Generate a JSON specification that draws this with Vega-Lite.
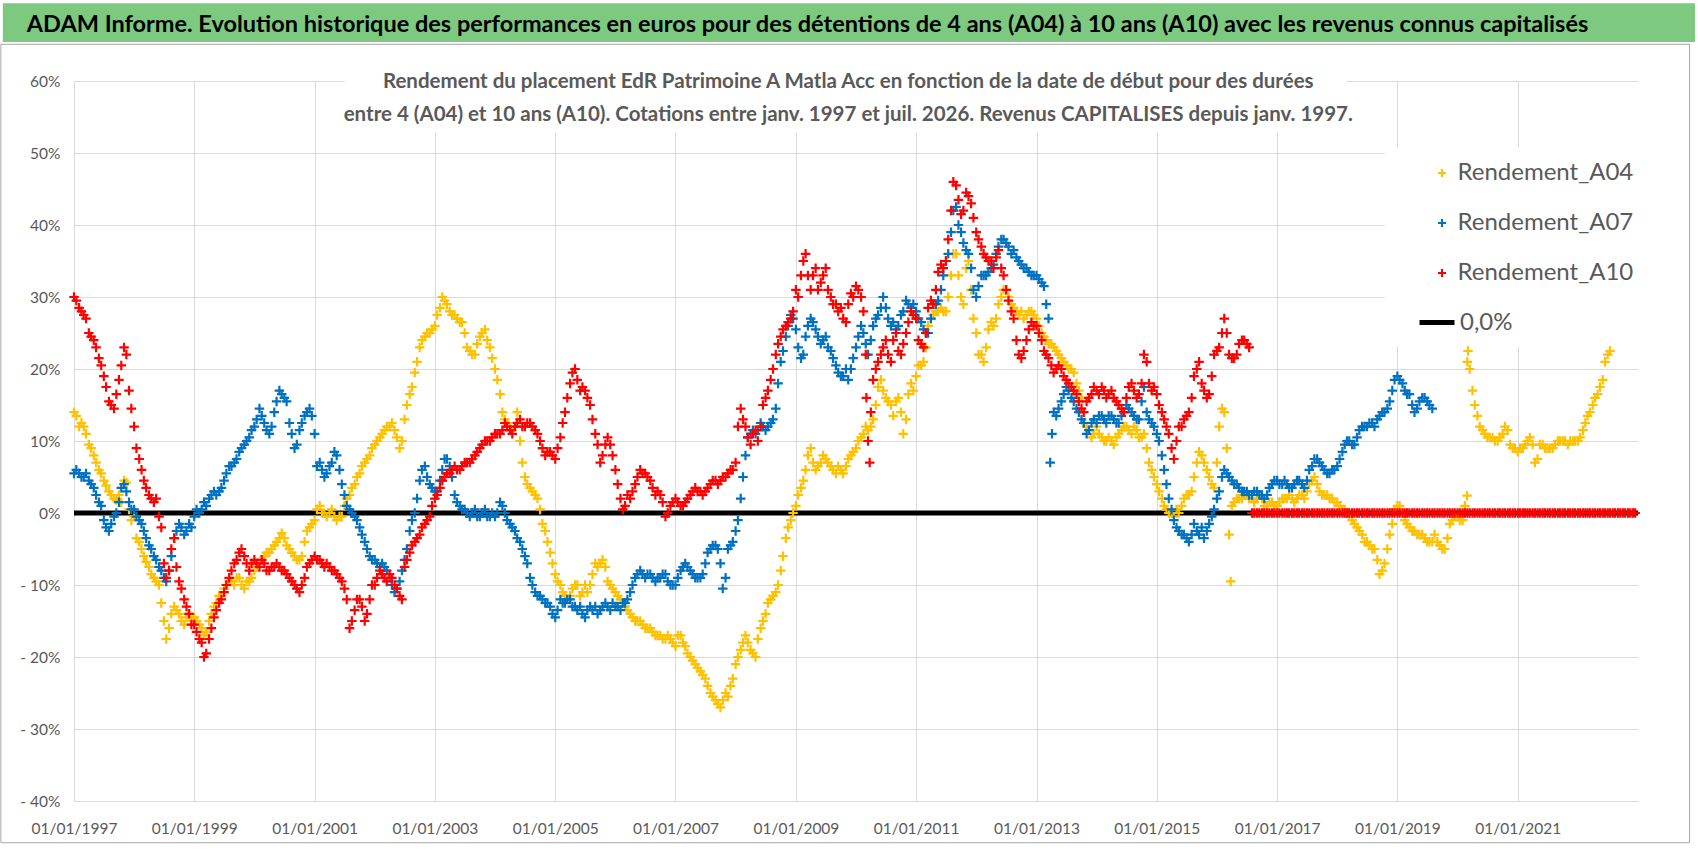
{
  "$schema": "https://vega.github.io/schema/vega-lite/v6.json",
  "width": 1564,
  "height": 720,
  "autosize": {"type": "none"},
  "padding": {"left": 74, "top": 81, "right": 60, "bottom": 55},
  "background": "white",
  "config": {
    "view": {"stroke": null},
    "font": "Lato"
  },
  "layer": [
    {
      "data": {"values": [{}]},
      "mark": {"type": "rect", "fill": "#7DC97F"},
      "encoding": {
        "x": {"datum": {"year": 1995, "month": 10, "date": 27, "utc": true}},
        "x2": {"datum": {"year": 2023, "month": 12, "date": 13, "utc": true}},
        "y": {"datum": 70.8},
        "y2": {"datum": 65.4}
      }
    },
    {
      "data": {"values": [{}]},
      "mark": {"type": "rect", "fill": null, "stroke": "#A6A6A6", "strokeWidth": 1},
      "encoding": {
        "x": {"datum": {"year": 1995, "month": 10, "date": 15, "utc": true}},
        "x2": {"datum": {"year": 2023, "month": 11, "date": 10, "utc": true}},
        "y": {"datum": 65.1},
        "y2": {"datum": -45.8}
      }
    },
    {
      "data": {"values": [{}]},
      "mark": {"type": "rect", "fill": "white"},
      "encoding": {
        "x": {"datum": {"year": 2001, "month": 7, "date": 3, "utc": true}},
        "x2": {"datum": {"year": 2018, "month": 3, "date": 1, "utc": true}},
        "y": {"datum": 62.5},
        "y2": {"datum": 52.8}
      }
    },
    {
      "data": {"values": [{}]},
      "mark": {"type": "rect", "fill": "white"},
      "encoding": {
        "x": {"datum": {"year": 2018, "month": 10, "date": 17, "utc": true}},
        "x2": {"datum": {"year": 2023, "month": 2, "date": 1, "utc": true}},
        "y": {"datum": 50.8},
        "y2": {"datum": 23.1}
      }
    },
    {
      "data": {"values": [{}]},
      "mark": {"type": "rule", "strokeWidth": 5},
      "encoding": {
        "y": {"datum": 0},
        "stroke": {
          "datum": "0,0%",
          "type": "nominal",
          "scale": {"domain": ["0,0%"], "range": ["#000000"]},
          "legend": {
            "title": null,
            "orient": "none",
            "legendX": 1343,
            "legendY": 221.5,
            "padding": 0,
            "symbolType": "stroke",
            "symbolSize": 1225,
            "symbolStrokeWidth": 5,
            "labelOffset": 3,
            "labelFont": "Lato",
            "labelFontSize": 24,
            "labelColor": "#595959"
          }
        }
      }
    },
    {
      "data": {
        "values": [
          {"d":"1997-01-01","A04":14,"A07":5.5,"A10":30},
          {"d":"1997-01-15","A04":13.5,"A07":6,"A10":29.5},
          {"d":"1997-02-01","A04":12,"A07":5.5,"A10":28.5},
          {"d":"1997-02-15","A04":12.5,"A07":5,"A10":28},
          {"d":"1997-03-01","A04":12,"A07":5,"A10":27.5},
          {"d":"1997-03-15","A04":11,"A07":5.5,"A10":27},
          {"d":"1997-04-01","A04":9.5,"A07":4.5,"A10":25},
          {"d":"1997-04-15","A04":9,"A07":4,"A10":24.5},
          {"d":"1997-05-01","A04":8,"A07":3.5,"A10":24},
          {"d":"1997-05-15","A04":7,"A07":2.5,"A10":23},
          {"d":"1997-06-01","A04":6,"A07":1.5,"A10":21.5},
          {"d":"1997-06-15","A04":5.5,"A07":1,"A10":20.5},
          {"d":"1997-07-01","A04":4.5,"A07":-1,"A10":19},
          {"d":"1997-07-15","A04":3.8,"A07":-2,"A10":17.5},
          {"d":"1997-08-01","A04":3,"A07":-2.5,"A10":15.5},
          {"d":"1997-08-15","A04":2.5,"A07":-1.5,"A10":15},
          {"d":"1997-09-01","A04":2,"A07":-0.5,"A10":14.5},
          {"d":"1997-09-15","A04":1.8,"A07":0,"A10":16.5},
          {"d":"1997-10-01","A04":2.5,"A07":1.5,"A10":18.5},
          {"d":"1997-10-15","A04":1.5,"A07":3.5,"A10":20.5},
          {"d":"1997-11-01","A04":4.5,"A07":4,"A10":23},
          {"d":"1997-11-15","A04":4.2,"A07":3,"A10":22},
          {"d":"1997-12-01","A04":0.5,"A07":1.5,"A10":17},
          {"d":"1997-12-15","A04":-1,"A07":0.5,"A10":14.5},
          {"d":"1998-01-01","A04":-0.5,"A07":0.5,"A10":12},
          {"d":"1998-01-15","A04":-3.5,"A07":-0.5,"A10":9},
          {"d":"1998-02-01","A04":-4,"A07":-1,"A10":7.5},
          {"d":"1998-02-15","A04":-5,"A07":-1.5,"A10":6},
          {"d":"1998-03-01","A04":-6,"A07":-2.5,"A10":4.5},
          {"d":"1998-03-15","A04":-6.8,"A07":-3.5,"A10":3.5},
          {"d":"1998-04-01","A04":-7.5,"A07":-4.5,"A10":2.5},
          {"d":"1998-04-15","A04":-8.5,"A07":-5,"A10":2},
          {"d":"1998-05-01","A04":-9,"A07":-6,"A10":1.5},
          {"d":"1998-05-15","A04":-9.5,"A07":-6.5,"A10":2},
          {"d":"1998-06-01","A04":-10,"A07":-7.5,"A10":-0.5},
          {"d":"1998-06-15","A04":-12.5,"A07":-8,"A10":-2},
          {"d":"1998-07-01","A04":-15,"A07":-9,"A10":-7},
          {"d":"1998-07-15","A04":-17.5,"A07":-9.5,"A10":-9},
          {"d":"1998-08-01","A04":-16,"A07":-8,"A10":-8},
          {"d":"1998-08-15","A04":-14,"A07":-6,"A10":-5},
          {"d":"1998-09-01","A04":-13,"A07":-3.5,"A10":-3.5},
          {"d":"1998-09-15","A04":-13.5,"A07":-2.5,"A10":-7.5},
          {"d":"1998-10-01","A04":-14,"A07":-1.5,"A10":-9.5},
          {"d":"1998-10-15","A04":-15,"A07":-2,"A10":-10.5},
          {"d":"1998-11-01","A04":-15.5,"A07":-3,"A10":-12},
          {"d":"1998-11-15","A04":-14.5,"A07":-2.5,"A10":-13},
          {"d":"1998-12-01","A04":-14,"A07":-1.5,"A10":-14},
          {"d":"1998-12-15","A04":-15,"A07":-2,"A10":-15.5},
          {"d":"1999-01-01","A04":-14.5,"A07":-0.5,"A10":-15.5},
          {"d":"1999-01-15","A04":-15,"A07":0.5,"A10":-16.5},
          {"d":"1999-02-01","A04":-15.5,"A07":0,"A10":-17.5},
          {"d":"1999-02-15","A04":-16,"A07":0.5,"A10":-18},
          {"d":"1999-03-01","A04":-17,"A07":1.5,"A10":-20},
          {"d":"1999-03-15","A04":-16.5,"A07":1,"A10":-19.5},
          {"d":"1999-04-01","A04":-15,"A07":2,"A10":-17.5},
          {"d":"1999-04-15","A04":-14,"A07":2.5,"A10":-16},
          {"d":"1999-05-01","A04":-13,"A07":3,"A10":-14.5},
          {"d":"1999-05-15","A04":-12.5,"A07":2.5,"A10":-13.5},
          {"d":"1999-06-01","A04":-11.5,"A07":3,"A10":-12.5},
          {"d":"1999-06-15","A04":-11.5,"A07":3.5,"A10":-12},
          {"d":"1999-07-01","A04":-10.5,"A07":4.5,"A10":-11},
          {"d":"1999-07-15","A04":-10,"A07":5.5,"A10":-10},
          {"d":"1999-08-01","A04":-9.5,"A07":6.5,"A10":-9},
          {"d":"1999-08-15","A04":-9.5,"A07":6.5,"A10":-8},
          {"d":"1999-09-01","A04":-10,"A07":7,"A10":-7},
          {"d":"1999-09-15","A04":-9,"A07":7.5,"A10":-6.5},
          {"d":"1999-10-01","A04":-9,"A07":8.5,"A10":-5.5},
          {"d":"1999-10-15","A04":-10,"A07":9,"A10":-5},
          {"d":"1999-11-01","A04":-10.5,"A07":9.5,"A10":-6},
          {"d":"1999-11-15","A04":-9.5,"A07":10,"A10":-7},
          {"d":"1999-12-01","A04":-9.5,"A07":10.5,"A10":-8},
          {"d":"1999-12-15","A04":-9,"A07":11.5,"A10":-7},
          {"d":"2000-01-01","A04":-8,"A07":12,"A10":-6.5},
          {"d":"2000-01-15","A04":-7.5,"A07":13,"A10":-7},
          {"d":"2000-02-01","A04":-7,"A07":14.5,"A10":-7.5},
          {"d":"2000-02-15","A04":-6.5,"A07":13.5,"A10":-6.5},
          {"d":"2000-03-01","A04":-6,"A07":12.5,"A10":-7},
          {"d":"2000-03-15","A04":-5.5,"A07":11.5,"A10":-8},
          {"d":"2000-04-01","A04":-5.5,"A07":11,"A10":-8},
          {"d":"2000-04-15","A04":-5,"A07":12,"A10":-7.5},
          {"d":"2000-05-01","A04":-4.5,"A07":14,"A10":-7.5},
          {"d":"2000-05-15","A04":-4,"A07":15.5,"A10":-7},
          {"d":"2000-06-01","A04":-3.5,"A07":17,"A10":-7.5},
          {"d":"2000-06-15","A04":-2.8,"A07":16.5,"A10":-8},
          {"d":"2000-07-01","A04":-3.5,"A07":16,"A10":-8},
          {"d":"2000-07-15","A04":-4.5,"A07":15.5,"A10":-8.5},
          {"d":"2000-08-01","A04":-5,"A07":12.5,"A10":-9},
          {"d":"2000-08-15","A04":-5.5,"A07":11,"A10":-9.5},
          {"d":"2000-09-01","A04":-6,"A07":9,"A10":-10},
          {"d":"2000-09-15","A04":-6.5,"A07":9.5,"A10":-10.5},
          {"d":"2000-10-01","A04":-6.5,"A07":11.5,"A10":-11},
          {"d":"2000-10-15","A04":-6,"A07":12.5,"A10":-10},
          {"d":"2000-11-01","A04":-4,"A07":13.5,"A10":-9},
          {"d":"2000-11-15","A04":-2.5,"A07":14,"A10":-7.5},
          {"d":"2000-12-01","A04":-2,"A07":14.5,"A10":-7},
          {"d":"2000-12-15","A04":-1.5,"A07":13.5,"A10":-6.5},
          {"d":"2001-01-01","A04":-1,"A07":11,"A10":-6},
          {"d":"2001-01-15","A04":0.5,"A07":6.5,"A10":-6.5},
          {"d":"2001-02-01","A04":1,"A07":7,"A10":-6.5},
          {"d":"2001-02-15","A04":0,"A07":6,"A10":-7},
          {"d":"2001-03-01","A04":0,"A07":5,"A10":-7.5},
          {"d":"2001-03-15","A04":-0.5,"A07":5.5,"A10":-7},
          {"d":"2001-04-01","A04":0,"A07":6.5,"A10":-7.5},
          {"d":"2001-04-15","A04":0.5,"A07":7,"A10":-8},
          {"d":"2001-05-01","A04":-0.5,"A07":8.5,"A10":-8},
          {"d":"2001-05-15","A04":-1,"A07":8,"A10":-8.5},
          {"d":"2001-06-01","A04":-0.5,"A07":6,"A10":-9},
          {"d":"2001-06-15","A04":-0.5,"A07":4,"A10":-9.5},
          {"d":"2001-07-01","A04":1,"A07":2.5,"A10":-10.5},
          {"d":"2001-07-15","A04":2,"A07":1,"A10":-12},
          {"d":"2001-08-01","A04":2.5,"A07":0.5,"A10":-16},
          {"d":"2001-08-15","A04":3.5,"A07":0,"A10":-15},
          {"d":"2001-09-01","A04":4,"A07":-0.5,"A10":-13.5},
          {"d":"2001-09-15","A04":5,"A07":-1,"A10":-12},
          {"d":"2001-10-01","A04":5.5,"A07":-2,"A10":-12},
          {"d":"2001-10-15","A04":6.5,"A07":-3,"A10":-13},
          {"d":"2001-11-01","A04":7,"A07":-4,"A10":-15},
          {"d":"2001-11-15","A04":7.5,"A07":-5,"A10":-14},
          {"d":"2001-12-01","A04":8,"A07":-6,"A10":-12},
          {"d":"2001-12-15","A04":9,"A07":-6.5,"A10":-10},
          {"d":"2002-01-01","A04":9.5,"A07":-6.5,"A10":-10},
          {"d":"2002-01-15","A04":10,"A07":-7,"A10":-9},
          {"d":"2002-02-01","A04":10.5,"A07":-7.5,"A10":-8},
          {"d":"2002-02-15","A04":11,"A07":-7,"A10":-8.5},
          {"d":"2002-03-01","A04":11.5,"A07":-7.5,"A10":-9},
          {"d":"2002-03-15","A04":12,"A07":-8,"A10":-9.5},
          {"d":"2002-04-01","A04":12,"A07":-9,"A10":-8.5},
          {"d":"2002-04-15","A04":12.5,"A07":-10,"A10":-9},
          {"d":"2002-05-01","A04":11.5,"A07":-11,"A10":-10},
          {"d":"2002-05-15","A04":10.5,"A07":-10.5,"A10":-10.5},
          {"d":"2002-06-01","A04":9,"A07":-9.5,"A10":-11.5},
          {"d":"2002-06-15","A04":10,"A07":-8,"A10":-12},
          {"d":"2002-07-01","A04":13,"A07":-6.5,"A10":-7.5},
          {"d":"2002-07-15","A04":15,"A07":-5,"A10":-6.5},
          {"d":"2002-08-01","A04":16.5,"A07":-2.5,"A10":-5.5},
          {"d":"2002-08-15","A04":17.5,"A07":-1,"A10":-4.5},
          {"d":"2002-09-01","A04":19.5,"A07":0,"A10":-4},
          {"d":"2002-09-15","A04":21,"A07":2,"A10":-3.5},
          {"d":"2002-10-01","A04":23,"A07":4.5,"A10":-3},
          {"d":"2002-10-15","A04":24,"A07":6,"A10":-2},
          {"d":"2002-11-01","A04":24.5,"A07":6.5,"A10":-1.5},
          {"d":"2002-11-15","A04":25,"A07":5,"A10":-1},
          {"d":"2002-12-01","A04":25,"A07":4,"A10":-0.5},
          {"d":"2002-12-15","A04":25.5,"A07":3.5,"A10":1},
          {"d":"2003-01-01","A04":26,"A07":3,"A10":2},
          {"d":"2003-01-15","A04":27.5,"A07":3,"A10":2.5},
          {"d":"2003-02-01","A04":28.5,"A07":4.5,"A10":3.5},
          {"d":"2003-02-15","A04":30,"A07":6,"A10":4.5},
          {"d":"2003-03-01","A04":29.5,"A07":7.5,"A10":5},
          {"d":"2003-03-15","A04":29,"A07":7.5,"A10":5.5},
          {"d":"2003-04-01","A04":28,"A07":6.5,"A10":5.5},
          {"d":"2003-04-15","A04":27.5,"A07":5,"A10":6},
          {"d":"2003-05-01","A04":27.5,"A07":2.5,"A10":6.5},
          {"d":"2003-05-15","A04":27,"A07":1.5,"A10":6},
          {"d":"2003-06-01","A04":26.5,"A07":1,"A10":6},
          {"d":"2003-06-15","A04":26.5,"A07":0.5,"A10":6.5},
          {"d":"2003-07-01","A04":25,"A07":0.5,"A10":7},
          {"d":"2003-07-15","A04":23,"A07":0,"A10":7},
          {"d":"2003-08-01","A04":22.5,"A07":-0.5,"A10":7},
          {"d":"2003-08-15","A04":22,"A07":0,"A10":7.5},
          {"d":"2003-09-01","A04":22,"A07":0.5,"A10":8},
          {"d":"2003-09-15","A04":23.5,"A07":-0.5,"A10":8.5},
          {"d":"2003-10-01","A04":24.5,"A07":-0.5,"A10":9},
          {"d":"2003-10-15","A04":25,"A07":0,"A10":9.5},
          {"d":"2003-11-01","A04":25.5,"A07":0.5,"A10":10},
          {"d":"2003-11-15","A04":24,"A07":-0.5,"A10":10},
          {"d":"2003-12-01","A04":23,"A07":-0.5,"A10":10},
          {"d":"2003-12-15","A04":21.5,"A07":0,"A10":10.5},
          {"d":"2004-01-01","A04":20,"A07":-0.5,"A10":11},
          {"d":"2004-01-15","A04":18.5,"A07":0,"A10":11},
          {"d":"2004-02-01","A04":16.5,"A07":1.5,"A10":11},
          {"d":"2004-02-15","A04":14,"A07":1,"A10":11.5},
          {"d":"2004-03-01","A04":13,"A07":0,"A10":12.5},
          {"d":"2004-03-15","A04":12.5,"A07":-1,"A10":12},
          {"d":"2004-04-01","A04":12,"A07":-1.5,"A10":11.5},
          {"d":"2004-04-15","A04":11.5,"A07":-2,"A10":11},
          {"d":"2004-05-01","A04":12,"A07":-2.5,"A10":12},
          {"d":"2004-05-15","A04":14,"A07":-3.5,"A10":12.5},
          {"d":"2004-06-01","A04":10,"A07":-4,"A10":13},
          {"d":"2004-06-15","A04":7,"A07":-5,"A10":12},
          {"d":"2004-07-01","A04":5,"A07":-6,"A10":12},
          {"d":"2004-07-15","A04":4,"A07":-7,"A10":12.5},
          {"d":"2004-08-01","A04":3.5,"A07":-9,"A10":12.5},
          {"d":"2004-08-15","A04":3,"A07":-10,"A10":12},
          {"d":"2004-09-01","A04":2.5,"A07":-11,"A10":11.5},
          {"d":"2004-09-15","A04":2,"A07":-11.5,"A10":11},
          {"d":"2004-10-01","A04":0.5,"A07":-11.5,"A10":10},
          {"d":"2004-10-15","A04":-1.5,"A07":-12,"A10":9},
          {"d":"2004-11-01","A04":-2.5,"A07":-12.5,"A10":8},
          {"d":"2004-11-15","A04":-4,"A07":-12.5,"A10":8.5},
          {"d":"2004-12-01","A04":-5.5,"A07":-13,"A10":8.5},
          {"d":"2004-12-15","A04":-7,"A07":-14,"A10":8},
          {"d":"2005-01-01","A04":-8.5,"A07":-14.5,"A10":7.5},
          {"d":"2005-01-15","A04":-9.5,"A07":-13.5,"A10":9},
          {"d":"2005-02-01","A04":-10,"A07":-12,"A10":10.5},
          {"d":"2005-02-15","A04":-11,"A07":-12.5,"A10":12.5},
          {"d":"2005-03-01","A04":-11.5,"A07":-12.5,"A10":14},
          {"d":"2005-03-15","A04":-12,"A07":-12,"A10":16},
          {"d":"2005-04-01","A04":-11.5,"A07":-12,"A10":18},
          {"d":"2005-04-15","A04":-10.5,"A07":-13,"A10":19.5},
          {"d":"2005-05-01","A04":-10,"A07":-13,"A10":20},
          {"d":"2005-05-15","A04":-10,"A07":-13.5,"A10":18.5},
          {"d":"2005-06-01","A04":-11.5,"A07":-13,"A10":17},
          {"d":"2005-06-15","A04":-11,"A07":-14,"A10":17.5},
          {"d":"2005-07-01","A04":-10,"A07":-14.5,"A10":17},
          {"d":"2005-07-15","A04":-11,"A07":-13.5,"A10":16},
          {"d":"2005-08-01","A04":-10,"A07":-13,"A10":15},
          {"d":"2005-08-15","A04":-8.5,"A07":-13.5,"A10":13},
          {"d":"2005-09-01","A04":-7,"A07":-13,"A10":11},
          {"d":"2005-09-15","A04":-7.5,"A07":-14,"A10":9.5},
          {"d":"2005-10-01","A04":-7,"A07":-13.5,"A10":7},
          {"d":"2005-10-15","A04":-6.5,"A07":-13,"A10":8},
          {"d":"2005-11-01","A04":-7.5,"A07":-12.5,"A10":9.5},
          {"d":"2005-11-15","A04":-9.5,"A07":-13,"A10":10.5},
          {"d":"2005-12-01","A04":-10,"A07":-13.5,"A10":9.5},
          {"d":"2005-12-15","A04":-10.5,"A07":-12.5,"A10":8},
          {"d":"2006-01-01","A04":-11,"A07":-13,"A10":6},
          {"d":"2006-01-15","A04":-11.5,"A07":-13,"A10":4},
          {"d":"2006-02-01","A04":-12,"A07":-13.5,"A10":2},
          {"d":"2006-02-15","A04":-12.5,"A07":-12.5,"A10":0.5},
          {"d":"2006-03-01","A04":-13,"A07":-12.5,"A10":1},
          {"d":"2006-03-15","A04":-13.5,"A07":-12,"A10":2.5},
          {"d":"2006-04-01","A04":-14,"A07":-11,"A10":2},
          {"d":"2006-04-15","A04":-14.5,"A07":-10,"A10":3},
          {"d":"2006-05-01","A04":-15,"A07":-9,"A10":4},
          {"d":"2006-05-15","A04":-15,"A07":-8.5,"A10":5},
          {"d":"2006-06-01","A04":-15,"A07":-8,"A10":6},
          {"d":"2006-06-15","A04":-15.5,"A07":-8.5,"A10":5.5},
          {"d":"2006-07-01","A04":-16,"A07":-9,"A10":5.5},
          {"d":"2006-07-15","A04":-16,"A07":-8.5,"A10":5},
          {"d":"2006-08-01","A04":-16,"A07":-8.5,"A10":4.5},
          {"d":"2006-08-15","A04":-16.5,"A07":-9,"A10":3.5},
          {"d":"2006-09-01","A04":-17,"A07":-9.5,"A10":2.5},
          {"d":"2006-09-15","A04":-17,"A07":-9,"A10":3},
          {"d":"2006-10-01","A04":-17,"A07":-9,"A10":2.5},
          {"d":"2006-10-15","A04":-17.5,"A07":-8.5,"A10":1.5},
          {"d":"2006-11-01","A04":-17.5,"A07":-8.5,"A10":-0.5},
          {"d":"2006-11-15","A04":-17,"A07":-9.5,"A10":0},
          {"d":"2006-12-01","A04":-17.5,"A07":-10,"A10":1},
          {"d":"2006-12-15","A04":-18,"A07":-10,"A10":1.5},
          {"d":"2007-01-01","A04":-18.5,"A07":-10,"A10":2},
          {"d":"2007-01-15","A04":-17,"A07":-9,"A10":1.5},
          {"d":"2007-02-01","A04":-17,"A07":-8,"A10":1},
          {"d":"2007-02-15","A04":-18,"A07":-7.5,"A10":1},
          {"d":"2007-03-01","A04":-18.5,"A07":-7,"A10":1.5},
          {"d":"2007-03-15","A04":-19.5,"A07":-7.5,"A10":2},
          {"d":"2007-04-01","A04":-20,"A07":-8,"A10":2.5},
          {"d":"2007-04-15","A04":-20.5,"A07":-8.5,"A10":3},
          {"d":"2007-05-01","A04":-21,"A07":-9,"A10":3.5},
          {"d":"2007-05-15","A04":-21.5,"A07":-9,"A10":3},
          {"d":"2007-06-01","A04":-22,"A07":-9,"A10":3},
          {"d":"2007-06-15","A04":-22.5,"A07":-8.5,"A10":2.5},
          {"d":"2007-07-01","A04":-23,"A07":-7,"A10":3},
          {"d":"2007-07-15","A04":-24,"A07":-5.5,"A10":3.5},
          {"d":"2007-08-01","A04":-25,"A07":-5,"A10":4},
          {"d":"2007-08-15","A04":-25.5,"A07":-4.5,"A10":4.5},
          {"d":"2007-09-01","A04":-26,"A07":-4.5,"A10":4.5},
          {"d":"2007-09-15","A04":-26.5,"A07":-5,"A10":4},
          {"d":"2007-10-01","A04":-27,"A07":-7,"A10":4.5},
          {"d":"2007-10-15","A04":-26,"A07":-10.5,"A10":5},
          {"d":"2007-11-01","A04":-25,"A07":-9,"A10":5},
          {"d":"2007-11-15","A04":-25.5,"A07":-5,"A10":5.5},
          {"d":"2007-12-01","A04":-24,"A07":-4.5,"A10":6},
          {"d":"2007-12-15","A04":-23,"A07":-4,"A10":6},
          {"d":"2008-01-01","A04":-21,"A07":-2.5,"A10":7},
          {"d":"2008-01-15","A04":-20,"A07":-1,"A10":12},
          {"d":"2008-02-01","A04":-19,"A07":2,"A10":14.5},
          {"d":"2008-02-15","A04":-18,"A07":5,"A10":13},
          {"d":"2008-03-01","A04":-17,"A07":8,"A10":12},
          {"d":"2008-03-15","A04":-18,"A07":10.5,"A10":10.5},
          {"d":"2008-04-01","A04":-19,"A07":11,"A10":9.5},
          {"d":"2008-04-15","A04":-19.5,"A07":11.5,"A10":11},
          {"d":"2008-05-01","A04":-20,"A07":11,"A10":11.5},
          {"d":"2008-05-15","A04":-17.5,"A07":11.5,"A10":10},
          {"d":"2008-06-01","A04":-16,"A07":12.5,"A10":12},
          {"d":"2008-06-15","A04":-15,"A07":12,"A10":15},
          {"d":"2008-07-01","A04":-14,"A07":11.5,"A10":16},
          {"d":"2008-07-15","A04":-12.5,"A07":12,"A10":17},
          {"d":"2008-08-01","A04":-12,"A07":12.5,"A10":18.5},
          {"d":"2008-08-15","A04":-11.5,"A07":13,"A10":20},
          {"d":"2008-09-01","A04":-11,"A07":14.5,"A10":22},
          {"d":"2008-09-15","A04":-10,"A07":18,"A10":23.5},
          {"d":"2008-10-01","A04":-8,"A07":21,"A10":24.5},
          {"d":"2008-10-15","A04":-6,"A07":22.5,"A10":25.5},
          {"d":"2008-11-01","A04":-3.5,"A07":24.5,"A10":26},
          {"d":"2008-11-15","A04":-2,"A07":26,"A10":26.5},
          {"d":"2008-12-01","A04":-1,"A07":27.5,"A10":27},
          {"d":"2008-12-15","A04":0,"A07":27,"A10":28},
          {"d":"2009-01-01","A04":1,"A07":25.5,"A10":31},
          {"d":"2009-01-15","A04":2.5,"A07":23,"A10":30},
          {"d":"2009-02-01","A04":3.5,"A07":21.5,"A10":33},
          {"d":"2009-02-15","A04":4.5,"A07":22,"A10":35},
          {"d":"2009-03-01","A04":6,"A07":24.5,"A10":36},
          {"d":"2009-03-15","A04":8,"A07":26,"A10":33},
          {"d":"2009-04-01","A04":9,"A07":27,"A10":31},
          {"d":"2009-04-15","A04":7,"A07":26.5,"A10":33},
          {"d":"2009-05-01","A04":6,"A07":25.5,"A10":34},
          {"d":"2009-05-15","A04":6.5,"A07":24.5,"A10":31},
          {"d":"2009-06-01","A04":7,"A07":23.5,"A10":32},
          {"d":"2009-06-15","A04":8,"A07":24,"A10":33},
          {"d":"2009-07-01","A04":7.5,"A07":24.5,"A10":34},
          {"d":"2009-07-15","A04":7,"A07":23,"A10":31},
          {"d":"2009-08-01","A04":6.5,"A07":22.5,"A10":30},
          {"d":"2009-08-15","A04":6,"A07":21.5,"A10":29},
          {"d":"2009-09-01","A04":5.5,"A07":20.5,"A10":29},
          {"d":"2009-09-15","A04":6.5,"A07":19.5,"A10":28},
          {"d":"2009-10-01","A04":6,"A07":19,"A10":28.5},
          {"d":"2009-10-15","A04":5.5,"A07":19,"A10":27},
          {"d":"2009-11-01","A04":6.5,"A07":20,"A10":26.5},
          {"d":"2009-11-15","A04":7.5,"A07":18.5,"A10":29},
          {"d":"2009-12-01","A04":8,"A07":20,"A10":30.5},
          {"d":"2009-12-15","A04":8.5,"A07":21.5,"A10":30},
          {"d":"2010-01-01","A04":9,"A07":23,"A10":31.5},
          {"d":"2010-01-15","A04":10,"A07":24.5,"A10":31},
          {"d":"2010-02-01","A04":10.5,"A07":26,"A10":30},
          {"d":"2010-02-15","A04":11,"A07":25,"A10":28},
          {"d":"2010-03-01","A04":12,"A07":23.5,"A10":22},
          {"d":"2010-03-05","A10":16},
          {"d":"2010-03-15","A04":11.5,"A07":22,"A10":10},
          {"d":"2010-03-25","A10":7},
          {"d":"2010-04-01","A04":12,"A07":24,"A10":14},
          {"d":"2010-04-15","A04":13,"A07":26,"A10":18.5},
          {"d":"2010-05-01","A04":15,"A07":27,"A10":20},
          {"d":"2010-05-15","A04":17.5,"A07":27.5,"A10":21},
          {"d":"2010-06-01","A04":18.5,"A07":28.5,"A10":22},
          {"d":"2010-06-15","A04":17,"A07":30,"A10":23},
          {"d":"2010-07-01","A04":16,"A07":28.5,"A10":24},
          {"d":"2010-07-15","A04":15.5,"A07":27,"A10":22},
          {"d":"2010-08-01","A04":15,"A07":26,"A10":21},
          {"d":"2010-08-15","A04":13.5,"A07":26.5,"A10":24},
          {"d":"2010-09-01","A04":15.5,"A07":25.5,"A10":25},
          {"d":"2010-09-15","A04":16,"A07":26,"A10":22.5},
          {"d":"2010-10-01","A04":14,"A07":27.5,"A10":22},
          {"d":"2010-10-15","A04":11,"A07":28,"A10":23.5},
          {"d":"2010-11-01","A04":13,"A07":29.5,"A10":25},
          {"d":"2010-11-15","A04":16.5,"A07":29,"A10":26.5},
          {"d":"2010-12-01","A04":18,"A07":28.5,"A10":28},
          {"d":"2010-12-15","A04":17,"A07":29,"A10":27.5},
          {"d":"2011-01-01","A04":19,"A07":28,"A10":27},
          {"d":"2011-01-15","A04":20.5,"A07":27,"A10":24},
          {"d":"2011-02-01","A04":20.5,"A07":26.5,"A10":23.5},
          {"d":"2011-02-15","A04":21,"A07":25.5,"A10":23},
          {"d":"2011-03-01","A04":23,"A07":25,"A10":25},
          {"d":"2011-03-15","A04":26,"A07":25,"A10":28.5},
          {"d":"2011-04-01","A04":27,"A07":27,"A10":29.5},
          {"d":"2011-04-15","A04":27.5,"A07":29,"A10":29},
          {"d":"2011-05-01","A04":28,"A07":29,"A10":31},
          {"d":"2011-05-15","A04":28,"A07":29.5,"A10":33.5},
          {"d":"2011-06-01","A04":28.5,"A07":31,"A10":34.5},
          {"d":"2011-06-15","A04":28,"A07":33,"A10":34},
          {"d":"2011-07-01","A04":28,"A07":35,"A10":35},
          {"d":"2011-07-15","A04":30,"A07":36,"A10":38},
          {"d":"2011-08-01","A04":33,"A07":39,"A10":42},
          {"d":"2011-08-15","A04":36,"A07":42,"A10":46},
          {"d":"2011-09-01","A04":36,"A07":42.5,"A10":45.5},
          {"d":"2011-09-15","A04":33,"A07":40,"A10":43.5},
          {"d":"2011-10-01","A04":30,"A07":39,"A10":41.5},
          {"d":"2011-10-15","A04":29,"A07":37.5,"A10":42},
          {"d":"2011-11-01","A04":34,"A07":36.5,"A10":44.5},
          {"d":"2011-11-15","A04":35,"A07":36,"A10":44},
          {"d":"2011-12-01","A04":31,"A07":34,"A10":43},
          {"d":"2011-12-15","A04":27,"A07":31,"A10":41},
          {"d":"2012-01-01","A04":25,"A07":30,"A10":39},
          {"d":"2012-01-15","A04":22,"A07":31.5,"A10":38},
          {"d":"2012-02-01","A04":22,"A07":33,"A10":37},
          {"d":"2012-02-15","A04":21,"A07":33,"A10":36},
          {"d":"2012-03-01","A04":23,"A07":33,"A10":35.5},
          {"d":"2012-03-15","A04":25.5,"A07":33.5,"A10":35},
          {"d":"2012-04-01","A04":26.5,"A07":34,"A10":35},
          {"d":"2012-04-15","A04":26,"A07":34.5,"A10":34},
          {"d":"2012-05-01","A04":27,"A07":36,"A10":35.5},
          {"d":"2012-05-15","A04":29,"A07":37,"A10":36.5},
          {"d":"2012-06-01","A04":30,"A07":38,"A10":34},
          {"d":"2012-06-15","A04":31,"A07":38,"A10":33},
          {"d":"2012-07-01","A04":31,"A07":37.5,"A10":31},
          {"d":"2012-07-15","A04":30,"A07":37,"A10":29.5},
          {"d":"2012-08-01","A04":29,"A07":36,"A10":28},
          {"d":"2012-08-15","A04":28.5,"A07":36.5,"A10":27},
          {"d":"2012-09-01","A04":28,"A07":35.5,"A10":24},
          {"d":"2012-09-15","A04":27.5,"A07":35,"A10":22},
          {"d":"2012-10-01","A04":28,"A07":34.5,"A10":21.5},
          {"d":"2012-10-15","A04":27,"A07":34,"A10":22.5},
          {"d":"2012-11-01","A04":27.5,"A07":34,"A10":24},
          {"d":"2012-11-15","A04":28,"A07":33.5,"A10":25.5},
          {"d":"2012-12-01","A04":28,"A07":33,"A10":26.5},
          {"d":"2012-12-15","A04":27.5,"A07":33,"A10":26},
          {"d":"2013-01-01","A04":27,"A07":33,"A10":26},
          {"d":"2013-01-15","A04":26,"A07":32.5,"A10":25},
          {"d":"2013-02-01","A04":25,"A07":32,"A10":24},
          {"d":"2013-02-15","A04":24.5,"A07":31.5,"A10":22.5},
          {"d":"2013-03-01","A04":24,"A07":29,"A10":22},
          {"d":"2013-03-15","A04":23.5,"A07":27,"A10":21.5},
          {"d":"2013-03-25","A07":7},
          {"d":"2013-04-01","A04":23.5,"A10":20.5},
          {"d":"2013-04-05","A07":11},
          {"d":"2013-04-15","A04":23,"A07":14,"A10":19.5},
          {"d":"2013-05-01","A04":22.5,"A07":13.5,"A10":20},
          {"d":"2013-05-15","A04":22,"A07":14.5,"A10":20.5},
          {"d":"2013-06-01","A04":21.5,"A07":15.5,"A10":20},
          {"d":"2013-06-15","A04":21,"A07":16.5,"A10":19},
          {"d":"2013-07-01","A04":20.5,"A07":17.5,"A10":18.5},
          {"d":"2013-07-15","A04":20,"A07":17,"A10":18},
          {"d":"2013-08-01","A04":20,"A07":16,"A10":17.5},
          {"d":"2013-08-15","A04":19.5,"A07":15.5,"A10":17},
          {"d":"2013-09-01","A04":18,"A07":14.5,"A10":16.5},
          {"d":"2013-09-15","A04":17,"A07":14,"A10":15.5},
          {"d":"2013-10-01","A04":16,"A07":13,"A10":14.5},
          {"d":"2013-10-15","A04":12.5,"A07":12.5,"A10":14},
          {"d":"2013-11-01","A04":12,"A07":11,"A10":15.5},
          {"d":"2013-11-15","A04":11.5,"A07":11.5,"A10":16},
          {"d":"2013-12-01","A04":10.5,"A07":12.5,"A10":16.5},
          {"d":"2013-12-15","A04":11,"A07":13,"A10":17.5},
          {"d":"2014-01-01","A04":12,"A07":12.5,"A10":17},
          {"d":"2014-01-15","A04":11,"A07":13.5,"A10":16.5},
          {"d":"2014-02-01","A04":10.5,"A07":13.5,"A10":17.5},
          {"d":"2014-02-15","A04":10,"A07":13,"A10":17},
          {"d":"2014-03-01","A04":10,"A07":12.5,"A10":16},
          {"d":"2014-03-15","A04":10.5,"A07":13.5,"A10":16.5},
          {"d":"2014-04-01","A04":10,"A07":13.5,"A10":17},
          {"d":"2014-04-15","A04":9.5,"A07":13,"A10":16},
          {"d":"2014-05-01","A04":10.5,"A07":12.5,"A10":15.5},
          {"d":"2014-05-15","A04":11,"A07":12.5,"A10":15},
          {"d":"2014-06-01","A04":11.5,"A07":13.5,"A10":14.5},
          {"d":"2014-06-15","A04":12,"A07":14,"A10":14},
          {"d":"2014-07-01","A04":12,"A07":15,"A10":16},
          {"d":"2014-07-15","A04":11.5,"A07":14.5,"A10":17.5},
          {"d":"2014-08-01","A04":11,"A07":14,"A10":18},
          {"d":"2014-08-15","A04":12,"A07":13.5,"A10":17},
          {"d":"2014-09-01","A04":11.5,"A07":13,"A10":16},
          {"d":"2014-09-15","A04":10.5,"A07":13,"A10":16.5},
          {"d":"2014-10-01","A04":10.5,"A07":15.5,"A10":18},
          {"d":"2014-10-15","A04":11,"A07":17.5,"A10":22},
          {"d":"2014-11-01","A04":9,"A07":14,"A10":21},
          {"d":"2014-11-15","A04":7,"A07":13,"A10":18},
          {"d":"2014-12-01","A04":6,"A07":12.5,"A10":17},
          {"d":"2014-12-15","A04":5,"A07":12,"A10":17.5},
          {"d":"2015-01-01","A04":4,"A07":11,"A10":16.5},
          {"d":"2015-01-15","A04":3,"A07":10,"A10":15},
          {"d":"2015-02-01","A04":2,"A07":8,"A10":14},
          {"d":"2015-02-15","A04":1,"A07":6,"A10":13},
          {"d":"2015-03-01","A04":0.5,"A07":4,"A10":12},
          {"d":"2015-03-15","A04":0,"A07":2,"A10":11},
          {"d":"2015-04-01","A04":0,"A07":0.5,"A10":9},
          {"d":"2015-04-15","A04":-0.5,"A07":-1,"A10":7.5},
          {"d":"2015-05-01","A04":0.5,"A07":-2,"A10":10},
          {"d":"2015-05-15","A04":0,"A07":-2.5,"A10":12},
          {"d":"2015-06-01","A04":1,"A07":-3,"A10":12},
          {"d":"2015-06-15","A04":2,"A07":-3,"A10":13},
          {"d":"2015-07-01","A04":2.5,"A07":-3.5,"A10":13.5},
          {"d":"2015-07-15","A04":2.5,"A07":-4,"A10":14},
          {"d":"2015-08-01","A04":3,"A07":-3,"A10":16},
          {"d":"2015-08-15","A04":5,"A07":-1.5,"A10":19},
          {"d":"2015-09-01","A04":7,"A07":-2.5,"A10":20},
          {"d":"2015-09-15","A04":8.5,"A07":-3,"A10":21},
          {"d":"2015-10-01","A04":8,"A07":-2,"A10":18},
          {"d":"2015-10-15","A04":7,"A07":-3.5,"A10":17},
          {"d":"2015-11-01","A04":6,"A07":-2.5,"A10":16},
          {"d":"2015-11-15","A04":5,"A07":-1.5,"A10":16.5},
          {"d":"2015-12-01","A04":4,"A07":-0.5,"A10":19},
          {"d":"2015-12-15","A04":3.5,"A07":0.5,"A10":22},
          {"d":"2016-01-01","A04":7,"A07":2,"A10":22.5},
          {"d":"2016-01-15","A04":12,"A07":3,"A10":23},
          {"d":"2016-02-01","A04":14.5,"A07":5,"A10":25},
          {"d":"2016-02-15","A04":14,"A07":6,"A10":27},
          {"d":"2016-03-01","A04":9,"A07":5.5,"A10":25},
          {"d":"2016-03-15","A04":-3,"A07":5,"A10":22},
          {"d":"2016-03-25","A04":-9.5},
          {"d":"2016-04-01","A04":1,"A07":4.5,"A10":21.5},
          {"d":"2016-04-15","A04":1.5,"A07":4,"A10":21.5},
          {"d":"2016-05-01","A04":2,"A07":4,"A10":22},
          {"d":"2016-05-15","A04":2,"A07":3.5,"A10":23.5},
          {"d":"2016-06-01","A04":2,"A07":3,"A10":24},
          {"d":"2016-06-15","A04":2.5,"A07":3,"A10":24},
          {"d":"2016-07-01","A04":2.5,"A07":3,"A10":23.5},
          {"d":"2016-07-15","A04":2,"A07":2.5,"A10":23},
          {"d":"2016-08-01","A04":2,"A07":2.5,"A10":0},
          {"d":"2016-08-15","A04":1.5,"A07":3,"A10":0},
          {"d":"2016-09-01","A04":2,"A07":3,"A10":0},
          {"d":"2016-09-15","A04":2.5,"A07":2.5,"A10":0},
          {"d":"2016-10-01","A04":2,"A07":2.5,"A10":0},
          {"d":"2016-10-15","A04":1,"A07":2,"A10":0},
          {"d":"2016-11-01","A04":1,"A07":2.5,"A10":0},
          {"d":"2016-11-15","A04":1.5,"A07":3.5,"A10":0},
          {"d":"2016-12-01","A04":1.5,"A07":4,"A10":0},
          {"d":"2016-12-15","A04":1,"A07":4.5,"A10":0},
          {"d":"2017-01-01","A04":1,"A07":4.5,"A10":0},
          {"d":"2017-01-15","A04":1.5,"A07":4,"A10":0},
          {"d":"2017-02-01","A04":2,"A07":4,"A10":0},
          {"d":"2017-02-15","A04":2,"A07":4.5,"A10":0},
          {"d":"2017-03-01","A04":2,"A07":4,"A10":0},
          {"d":"2017-03-15","A04":2.5,"A07":3.5,"A10":0},
          {"d":"2017-04-01","A04":2,"A07":3.5,"A10":0},
          {"d":"2017-04-15","A04":1.5,"A07":4,"A10":0},
          {"d":"2017-05-01","A04":2,"A07":4.5,"A10":0},
          {"d":"2017-05-15","A04":2.5,"A07":4.5,"A10":0},
          {"d":"2017-06-01","A04":2.5,"A07":4,"A10":0},
          {"d":"2017-06-15","A04":2,"A07":3.5,"A10":0},
          {"d":"2017-07-01","A04":3,"A07":4.5,"A10":0},
          {"d":"2017-07-15","A04":4,"A07":6,"A10":0},
          {"d":"2017-08-01","A04":4.5,"A07":6.5,"A10":0},
          {"d":"2017-08-15","A04":5,"A07":7.5,"A10":0},
          {"d":"2017-09-01","A04":4,"A07":7.5,"A10":0},
          {"d":"2017-09-15","A04":3,"A07":7,"A10":0},
          {"d":"2017-10-01","A04":2.5,"A07":6.5,"A10":0},
          {"d":"2017-10-15","A04":2.5,"A07":6,"A10":0},
          {"d":"2017-11-01","A04":2.5,"A07":5.5,"A10":0},
          {"d":"2017-11-15","A04":2,"A07":5.5,"A10":0},
          {"d":"2017-12-01","A04":2,"A07":6,"A10":0},
          {"d":"2017-12-15","A04":1.5,"A07":6,"A10":0},
          {"d":"2018-01-01","A04":1.5,"A07":6.5,"A10":0},
          {"d":"2018-01-15","A04":1,"A07":7.5,"A10":0},
          {"d":"2018-02-01","A04":0.5,"A07":8.5,"A10":0},
          {"d":"2018-02-15","A04":0.5,"A07":9.5,"A10":0},
          {"d":"2018-03-01","A04":0,"A07":10,"A10":0},
          {"d":"2018-03-15","A04":-0.5,"A07":10,"A10":0},
          {"d":"2018-04-01","A04":-1,"A07":9.5,"A10":0},
          {"d":"2018-04-15","A04":-1.5,"A07":9.5,"A10":0},
          {"d":"2018-05-01","A04":-2,"A07":10.5,"A10":0},
          {"d":"2018-05-15","A04":-2.5,"A07":11.5,"A10":0},
          {"d":"2018-06-01","A04":-3,"A07":12,"A10":0},
          {"d":"2018-06-15","A04":-4,"A07":12,"A10":0},
          {"d":"2018-07-01","A04":-4,"A07":12,"A10":0},
          {"d":"2018-07-15","A04":-4.5,"A07":12.5,"A10":0},
          {"d":"2018-08-01","A04":-5,"A07":12.5,"A10":0},
          {"d":"2018-08-15","A04":-5,"A07":12,"A10":0},
          {"d":"2018-09-01","A04":-6.5,"A07":13,"A10":0},
          {"d":"2018-09-15","A04":-8.5,"A07":13.5,"A10":0},
          {"d":"2018-10-01","A04":-8,"A07":14,"A10":0},
          {"d":"2018-10-15","A04":-7,"A07":14,"A10":0},
          {"d":"2018-11-01","A04":-5,"A07":14.5,"A10":0},
          {"d":"2018-11-15","A04":-3,"A07":15.5,"A10":0},
          {"d":"2018-12-01","A04":-1.5,"A07":17,"A10":0},
          {"d":"2018-12-15","A04":0.5,"A07":18.5,"A10":0},
          {"d":"2019-01-01","A04":1,"A07":19,"A10":0},
          {"d":"2019-01-15","A04":1,"A07":18.5,"A10":0},
          {"d":"2019-02-01","A04":0,"A07":18,"A10":0},
          {"d":"2019-02-15","A04":-1,"A07":17,"A10":0},
          {"d":"2019-03-01","A04":-1.5,"A07":16.5,"A10":0},
          {"d":"2019-03-15","A04":-2,"A07":16.5,"A10":0},
          {"d":"2019-04-01","A04":-2.5,"A07":15,"A10":0},
          {"d":"2019-04-15","A04":-2.5,"A07":14,"A10":0},
          {"d":"2019-05-01","A04":-3,"A07":14.5,"A10":0},
          {"d":"2019-05-15","A04":-3,"A07":15.5,"A10":0},
          {"d":"2019-06-01","A04":-3,"A07":16,"A10":0},
          {"d":"2019-06-15","A04":-3.5,"A07":16,"A10":0},
          {"d":"2019-07-01","A04":-4,"A07":15.5,"A10":0},
          {"d":"2019-07-15","A04":-4,"A07":15,"A10":0},
          {"d":"2019-08-01","A04":-4,"A07":14.5,"A10":0},
          {"d":"2019-08-15","A04":-3,"A10":0},
          {"d":"2019-09-01","A04":-4,"A10":0},
          {"d":"2019-09-15","A04":-4.5,"A10":0},
          {"d":"2019-10-01","A04":-5,"A10":0},
          {"d":"2019-10-15","A04":-5,"A10":0},
          {"d":"2019-11-01","A04":-3.5,"A10":0},
          {"d":"2019-11-15","A04":-1.5,"A10":0},
          {"d":"2019-12-01","A04":-1,"A10":0},
          {"d":"2019-12-15","A04":-0.5,"A10":0},
          {"d":"2020-01-01","A04":-0.5,"A10":0},
          {"d":"2020-01-15","A04":-1,"A10":0},
          {"d":"2020-02-01","A04":-1,"A10":0},
          {"d":"2020-02-15","A04":1,"A10":0},
          {"d":"2020-02-28","A04":2.4},
          {"d":"2020-03-01","A04":21,"A10":0},
          {"d":"2020-03-05","A04":22.5},
          {"d":"2020-03-15","A04":20,"A10":0},
          {"d":"2020-04-01","A04":17,"A10":0},
          {"d":"2020-04-15","A04":15,"A10":0},
          {"d":"2020-05-01","A04":13.5,"A10":0},
          {"d":"2020-05-15","A04":12,"A10":0},
          {"d":"2020-06-01","A04":11.5,"A10":0},
          {"d":"2020-06-15","A04":11,"A10":0},
          {"d":"2020-07-01","A04":10.5,"A10":0},
          {"d":"2020-07-15","A04":10.5,"A10":0},
          {"d":"2020-08-01","A04":10.5,"A10":0},
          {"d":"2020-08-15","A04":10,"A10":0},
          {"d":"2020-09-01","A04":10,"A10":0},
          {"d":"2020-09-15","A04":10.5,"A10":0},
          {"d":"2020-10-01","A04":11,"A10":0},
          {"d":"2020-10-15","A04":12,"A10":0},
          {"d":"2020-11-01","A04":11.5,"A10":0},
          {"d":"2020-11-15","A04":9.5,"A10":0},
          {"d":"2020-12-01","A04":9,"A10":0},
          {"d":"2020-12-15","A04":9,"A10":0},
          {"d":"2021-01-01","A04":8.5,"A10":0},
          {"d":"2021-01-15","A04":9,"A10":0},
          {"d":"2021-02-01","A04":9,"A10":0},
          {"d":"2021-02-15","A04":9.5,"A10":0},
          {"d":"2021-03-01","A04":10,"A10":0},
          {"d":"2021-03-15","A04":10.5,"A10":0},
          {"d":"2021-04-01","A04":9.5,"A10":0},
          {"d":"2021-04-15","A04":7,"A10":0},
          {"d":"2021-05-01","A04":7.5,"A10":0},
          {"d":"2021-05-15","A04":9.5,"A10":0},
          {"d":"2021-06-01","A04":9.5,"A10":0},
          {"d":"2021-06-15","A04":9,"A10":0},
          {"d":"2021-07-01","A04":9,"A10":0},
          {"d":"2021-07-15","A04":9,"A10":0},
          {"d":"2021-08-01","A04":9,"A10":0},
          {"d":"2021-08-15","A04":9.5,"A10":0},
          {"d":"2021-09-01","A04":10,"A10":0},
          {"d":"2021-09-15","A04":10,"A10":0},
          {"d":"2021-10-01","A04":10,"A10":0},
          {"d":"2021-10-15","A04":10,"A10":0},
          {"d":"2021-11-01","A04":9.5,"A10":0},
          {"d":"2021-11-15","A04":10,"A10":0},
          {"d":"2021-12-01","A04":10,"A10":0},
          {"d":"2021-12-15","A04":10,"A10":0},
          {"d":"2022-01-01","A04":10,"A10":0},
          {"d":"2022-01-15","A04":10.5,"A10":0},
          {"d":"2022-02-01","A04":11.5,"A10":0},
          {"d":"2022-02-15","A04":12.5,"A10":0},
          {"d":"2022-03-01","A04":13.5,"A10":0},
          {"d":"2022-03-15","A04":14,"A10":0},
          {"d":"2022-04-01","A04":15,"A10":0},
          {"d":"2022-04-15","A04":16,"A10":0},
          {"d":"2022-05-01","A04":16.5,"A10":0},
          {"d":"2022-05-15","A04":17.5,"A10":0},
          {"d":"2022-06-01","A04":18.5,"A10":0},
          {"d":"2022-06-15","A04":21,"A10":0},
          {"d":"2022-07-01","A04":22,"A10":0},
          {"d":"2022-07-15","A04":22.5,"A10":0},
          {"d":"2022-08-01","A10":0},
          {"d":"2022-08-15","A10":0},
          {"d":"2022-09-01","A10":0},
          {"d":"2022-09-15","A10":0},
          {"d":"2022-10-01","A10":0},
          {"d":"2022-10-15","A10":0},
          {"d":"2022-11-01","A10":0},
          {"d":"2022-11-15","A10":0},
          {"d":"2022-12-01","A10":0},
          {"d":"2022-12-15","A10":0}
        ]
      },
      "transform": [
        {"fold": ["A04", "A07", "A10"], "as": ["s", "v"]},
        {"filter": "isValid(datum.v)"}
      ],
      "mark": {"type": "point", "shape": "M-1,0L1,0M0,-1L0,1", "filled": false, "strokeWidth": 2.2, "size": 90, "opacity": 1},
      "encoding": {
        "x": {
          "field": "d",
          "type": "temporal",
          "scale": {
            "type": "utc",
            "domain": [
              {"year": 1997, "month": 1, "date": 1, "utc": true},
              {"year": 2023, "month": 1, "date": 1, "utc": true}
            ]
          },
          "axis": {
            "title": null,
            "values": [
              {"year": 1997, "month": 1, "date": 1, "utc": true},
              {"year": 1999, "month": 1, "date": 1, "utc": true},
              {"year": 2001, "month": 1, "date": 1, "utc": true},
              {"year": 2003, "month": 1, "date": 1, "utc": true},
              {"year": 2005, "month": 1, "date": 1, "utc": true},
              {"year": 2007, "month": 1, "date": 1, "utc": true},
              {"year": 2009, "month": 1, "date": 1, "utc": true},
              {"year": 2011, "month": 1, "date": 1, "utc": true},
              {"year": 2013, "month": 1, "date": 1, "utc": true},
              {"year": 2015, "month": 1, "date": 1, "utc": true},
              {"year": 2017, "month": 1, "date": 1, "utc": true},
              {"year": 2019, "month": 1, "date": 1, "utc": true},
              {"year": 2021, "month": 1, "date": 1, "utc": true}
            ],
            "labelExpr": "utcFormat(datum.value, '%d/%m/%Y')",
            "labelFont": "Lato",
            "labelFontSize": 15.5,
            "labelColor": "#595959",
            "labelPadding": 20,
            "labelFlush": false,
            "labelOverlap": false,
            "ticks": false,
            "domain": true,
            "domainColor": "#D9D9D9",
            "grid": true,
            "gridColor": "#D9D9D9",
            "gridWidth": 1
          }
        },
        "y": {
          "field": "v",
          "type": "quantitative",
          "scale": {"domain": [-40, 60], "nice": false, "zero": false},
          "axis": {
            "title": null,
            "values": [-40, -30, -20, -10, 0, 10, 20, 30, 40, 50, 60],
            "labelExpr": "datum.value < 0 ? '- ' + (-datum.value) + '%' : datum.value + '%'",
            "labelFont": "Lato",
            "labelFontSize": 15.5,
            "labelColor": "#595959",
            "labelPadding": 14,
            "ticks": false,
            "domain": false,
            "grid": true,
            "gridColor": "#D9D9D9",
            "gridWidth": 1
          }
        },
        "color": {
          "field": "s",
          "type": "nominal",
          "scale": {
            "domain": ["A04", "A07", "A10"],
            "range": ["#FFC000", "#0070C0", "#FF0000"]
          },
          "legend": {
            "title": null,
            "orient": "none",
            "legendX": 1356,
            "legendY": 80,
            "padding": 0,
            "symbolType": "M-1,0L1,0M0,-1L0,1",
            "symbolSize": 64,
            "symbolStrokeWidth": 2,
            "rowPadding": 26,
            "labelOffset": 3.5,
            "labelFont": "Lato",
            "labelFontSize": 24,
            "labelColor": "#595959",
            "labelLimit": 300,
            "labelExpr": "'Rendement_' + datum.label"
          }
        },
        "order": {"field": "s", "type": "nominal"}
      }
    },
    {
      "data": {"values": [{}]},
      "mark": {
        "type": "text",
        "text": "ADAM Informe. Evolution historique des performances en euros pour des détentions de 4 ans (A04) à 10 ans (A10) avec les revenus connus capitalisés",
        "font": "Lato",
        "fontWeight": "bold",
        "fontSize": 23.5,
        "color": "#000000",
        "align": "left",
        "baseline": "alphabetic"
      },
      "encoding": {
        "x": {"datum": {"year": 1996, "month": 3, "date": 20, "utc": true}},
        "y": {"datum": 66.85}
      }
    },
    {
      "data": {"values": [{}]},
      "mark": {
        "type": "text",
        "text": [
          "Rendement du placement EdR Patrimoine A Matla Acc en fonction de la date de début pour des durées",
          "entre 4 (A04) et 10 ans (A10).  Cotations entre janv. 1997 et juil. 2026. Revenus CAPITALISES  depuis janv. 1997."
        ],
        "font": "Lato",
        "fontWeight": "bold",
        "fontSize": 20.5,
        "lineHeight": 33,
        "color": "#595959",
        "align": "center",
        "baseline": "alphabetic"
      },
      "encoding": {
        "x": {"datum": {"year": 2009, "month": 11, "date": 15, "utc": true}},
        "y": {"datum": 59.0}
      }
    }
  ]
}
